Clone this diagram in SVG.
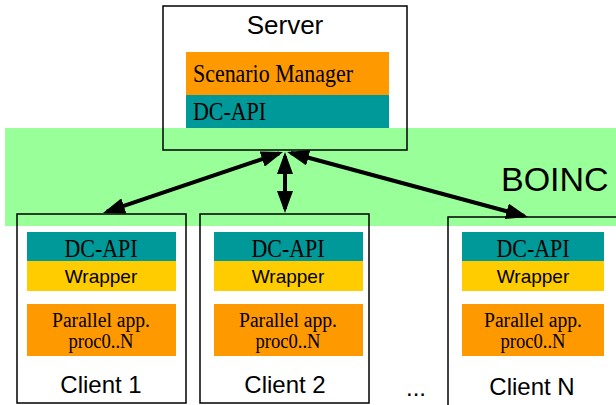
<svg xmlns="http://www.w3.org/2000/svg" width="616" height="405" viewBox="0 0 616 405">
<style>
.box{fill:none;stroke:#000;stroke-width:1.5}
.teal{fill:#009999}
.orange{fill:#FF9900}
.yellow{fill:#FFCC00}
.serif{font-family:"Liberation Serif","Times New Roman",serif;fill:#000}
.sans{font-family:"Liberation Sans",Arial,sans-serif;fill:#000}
.link{stroke:#000;stroke-width:4;fill:none;marker-start:url(#ah);marker-end:url(#ah)}
</style>
<defs>
<marker id="ah" markerUnits="userSpaceOnUse" markerWidth="22" markerHeight="16" refX="18" refY="8" orient="auto-start-reverse">
<path d="M0,0 L22,8 L0,16 z" fill="#000"/>
</marker>
</defs>
<rect width="616" height="405" fill="#fff"/>
<rect x="5" y="128" width="611" height="98" fill="#99FF99"/>
<text class="sans" x="501" y="191" font-size="34">BOINC</text>

<g id="server">
<rect class="box" x="163" y="6" width="244" height="144"/>
<text class="sans" x="285" y="34" font-size="26" text-anchor="middle">Server</text>
<rect class="orange" x="186" y="52" width="203" height="43"/>
<text class="serif" x="193" y="82" font-size="25" textLength="160" lengthAdjust="spacingAndGlyphs">Scenario Manager</text>
<rect class="teal" x="186" y="95" width="203" height="33"/>
<text class="serif" x="193" y="120" font-size="25" textLength="73" lengthAdjust="spacingAndGlyphs">DC-API</text>
</g>

<g id="client1">
<rect class="box" x="17" y="214" width="169" height="189"/>
<rect class="teal" x="27" y="232" width="149" height="29"/>
<text class="serif" x="101" y="257" font-size="25" text-anchor="middle" textLength="73" lengthAdjust="spacingAndGlyphs">DC-API</text>
<rect class="yellow" x="27" y="261" width="149" height="30"/>
<text class="sans" x="101" y="283" font-size="19" text-anchor="middle">Wrapper</text>
<rect class="orange" x="27" y="304" width="149" height="52"/>
<text class="serif" x="101" y="327" font-size="20" text-anchor="middle" textLength="98" lengthAdjust="spacingAndGlyphs">Parallel app.</text>
<text class="serif" x="101" y="348" font-size="20" text-anchor="middle" textLength="65" lengthAdjust="spacingAndGlyphs">proc0..N</text>
<text class="sans" x="101" y="393" font-size="24" text-anchor="middle">Client 1</text>
</g>

<g id="client2">
<rect class="box" x="200" y="214" width="169" height="189"/>
<rect class="teal" x="214" y="232" width="149" height="29"/>
<text class="serif" x="288" y="257" font-size="25" text-anchor="middle" textLength="73" lengthAdjust="spacingAndGlyphs">DC-API</text>
<rect class="yellow" x="214" y="261" width="149" height="30"/>
<text class="sans" x="288" y="283" font-size="19" text-anchor="middle">Wrapper</text>
<rect class="orange" x="214" y="304" width="149" height="52"/>
<text class="serif" x="288" y="327" font-size="20" text-anchor="middle" textLength="98" lengthAdjust="spacingAndGlyphs">Parallel app.</text>
<text class="serif" x="288" y="348" font-size="20" text-anchor="middle" textLength="65" lengthAdjust="spacingAndGlyphs">proc0..N</text>
<text class="sans" x="285" y="393" font-size="24" text-anchor="middle">Client 2</text>
</g>

<g id="clientN">
<rect class="box" x="448" y="217" width="170" height="190"/>
<rect class="teal" x="462" y="232" width="142" height="29"/>
<text class="serif" x="533" y="257" font-size="25" text-anchor="middle" textLength="73" lengthAdjust="spacingAndGlyphs">DC-API</text>
<rect class="yellow" x="462" y="261" width="142" height="30"/>
<text class="sans" x="533" y="283" font-size="19" text-anchor="middle">Wrapper</text>
<rect class="orange" x="462" y="304" width="142" height="52"/>
<text class="serif" x="533" y="327" font-size="20" text-anchor="middle" textLength="98" lengthAdjust="spacingAndGlyphs">Parallel app.</text>
<text class="serif" x="533" y="348" font-size="20" text-anchor="middle" textLength="65" lengthAdjust="spacingAndGlyphs">proc0..N</text>
<text class="sans" x="532" y="395" font-size="24" text-anchor="middle">Client N</text>
</g>

<text class="sans" x="416" y="396" font-size="24" text-anchor="middle">...</text>

<g id="connectors">
<line class="link" x1="279.2" y1="153.3" x2="106.8" y2="211.7"/>
<line class="link" x1="285" y1="156" x2="285" y2="209"/>
<line class="link" x1="290.9" y1="153" x2="524.1" y2="216"/>
</g>
</svg>
